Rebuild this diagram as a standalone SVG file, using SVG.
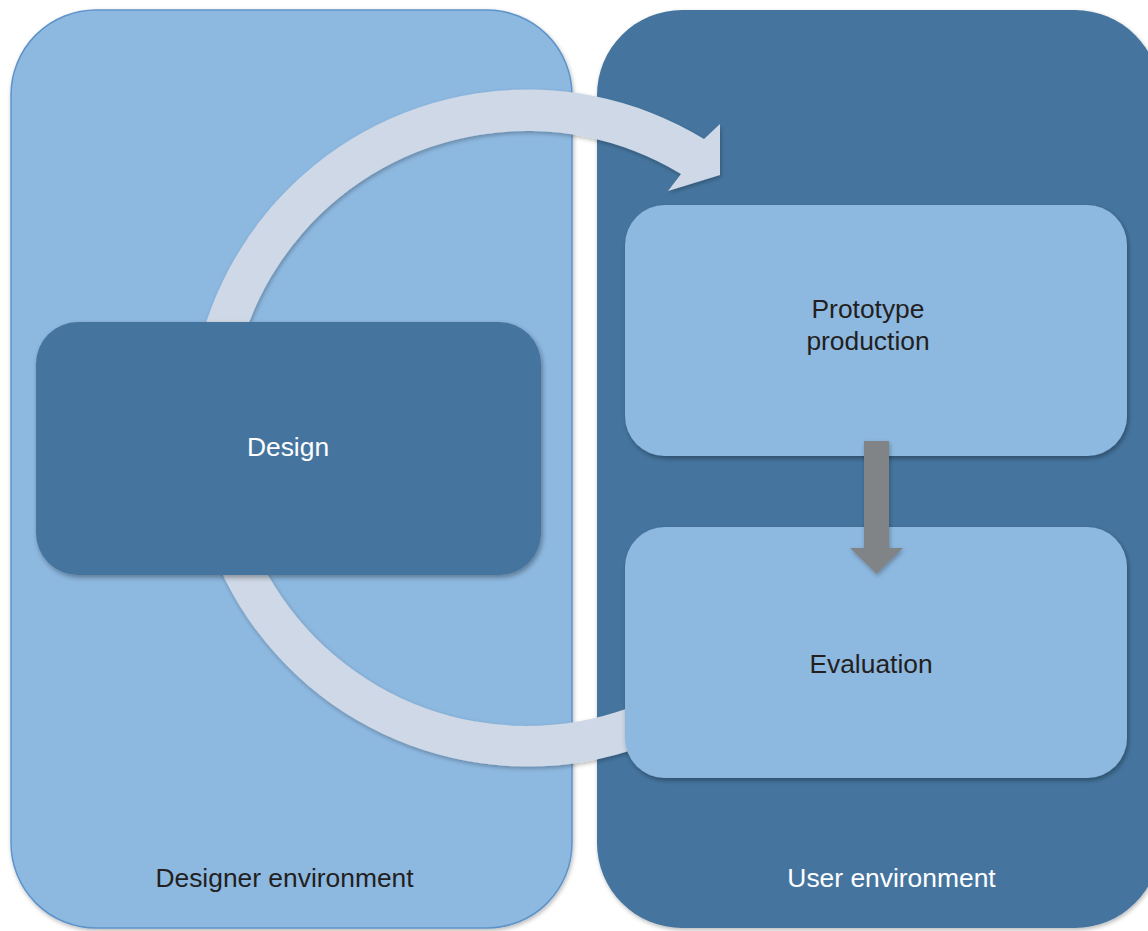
<svg xmlns="http://www.w3.org/2000/svg" width="1148" height="931" viewBox="0 0 1148 931">
  <defs>
    <filter id="shadow" x="-10%" y="-10%" width="120%" height="120%">
      <feDropShadow dx="1.5" dy="2.5" stdDeviation="2.5" flood-color="#000" flood-opacity="0.35"/>
    </filter>
    <filter id="softShadow" x="-10%" y="-10%" width="120%" height="120%">
      <feDropShadow dx="1" dy="2" stdDeviation="2" flood-color="#000" flood-opacity="0.28"/>
    </filter>
  </defs>
  <style>
    .panel-light { fill: #8db8e0; stroke: #5d93c9; stroke-width: 1.5; }
    .panel-dark { fill: #45759f; }
    .node-dark { fill: #44749e; }
    .node-light { fill: #8db8e0; }
    .label { font-family: "Liberation Sans", Arial, sans-serif; font-size: 26.4px; text-anchor: middle; }
    .label-dark { fill: #231f20; }
    .label-white { fill: #ffffff; }
    .cycle { fill: #ced8e6; }
    .step { fill: #808487; }
  </style>

  <rect width="1148" height="931" fill="#ffffff"/>

  <!-- environments -->
  <g id="designer-environment">
    <rect class="panel-light" x="11" y="10" width="561" height="918" rx="85" ry="85" filter="url(#softShadow)"/>
    <text class="label label-dark" x="284.5" y="887">Designer environment</text>
  </g>
  <g id="user-environment">
    <rect class="panel-dark" x="597" y="10" width="563" height="918" rx="85" ry="85" filter="url(#softShadow)"/>
    <text class="label label-white" x="891.5" y="887">User environment</text>
  </g>

  <!-- connectors -->
  <g id="connectors">
    <!-- feedback loop: Evaluation back round to Prototype production -->
    <path id="cycle-arrow" class="cycle" filter="url(#softShadow)"
          d="M 696.3 721.6 A 338.5 338.5 0 1 1 704 139 L 720 124 L 720 175 L 668 191 L 681 174 A 297.5 297.5 0 1 0 675.8 686.1 Z"/>
  </g>

  <!-- process nodes -->
  <g id="design">
    <rect class="node-dark" x="36" y="322" width="505" height="253" rx="42" ry="42" filter="url(#shadow)"/>
    <text class="label label-white" x="288" y="456">Design</text>
  </g>
  <g id="prototype-production">
    <rect class="node-light" x="625" y="205" width="502" height="251" rx="40" ry="40" filter="url(#shadow)"/>
    <text class="label label-dark" x="868" y="318">Prototype</text>
    <text class="label label-dark" x="868" y="350">production</text>
  </g>
  <g id="evaluation">
    <rect class="node-light" x="625" y="527" width="502" height="251" rx="40" ry="40" filter="url(#shadow)"/>
    <text class="label label-dark" x="871" y="673">Evaluation</text>
  </g>

  <g id="step-connector">
    <path class="step" filter="url(#softShadow)" d="M 864 441 L 889 441 L 889 548 L 903 548 L 876.5 574 L 850 548 L 864 548 Z"/>
  </g>
</svg>
